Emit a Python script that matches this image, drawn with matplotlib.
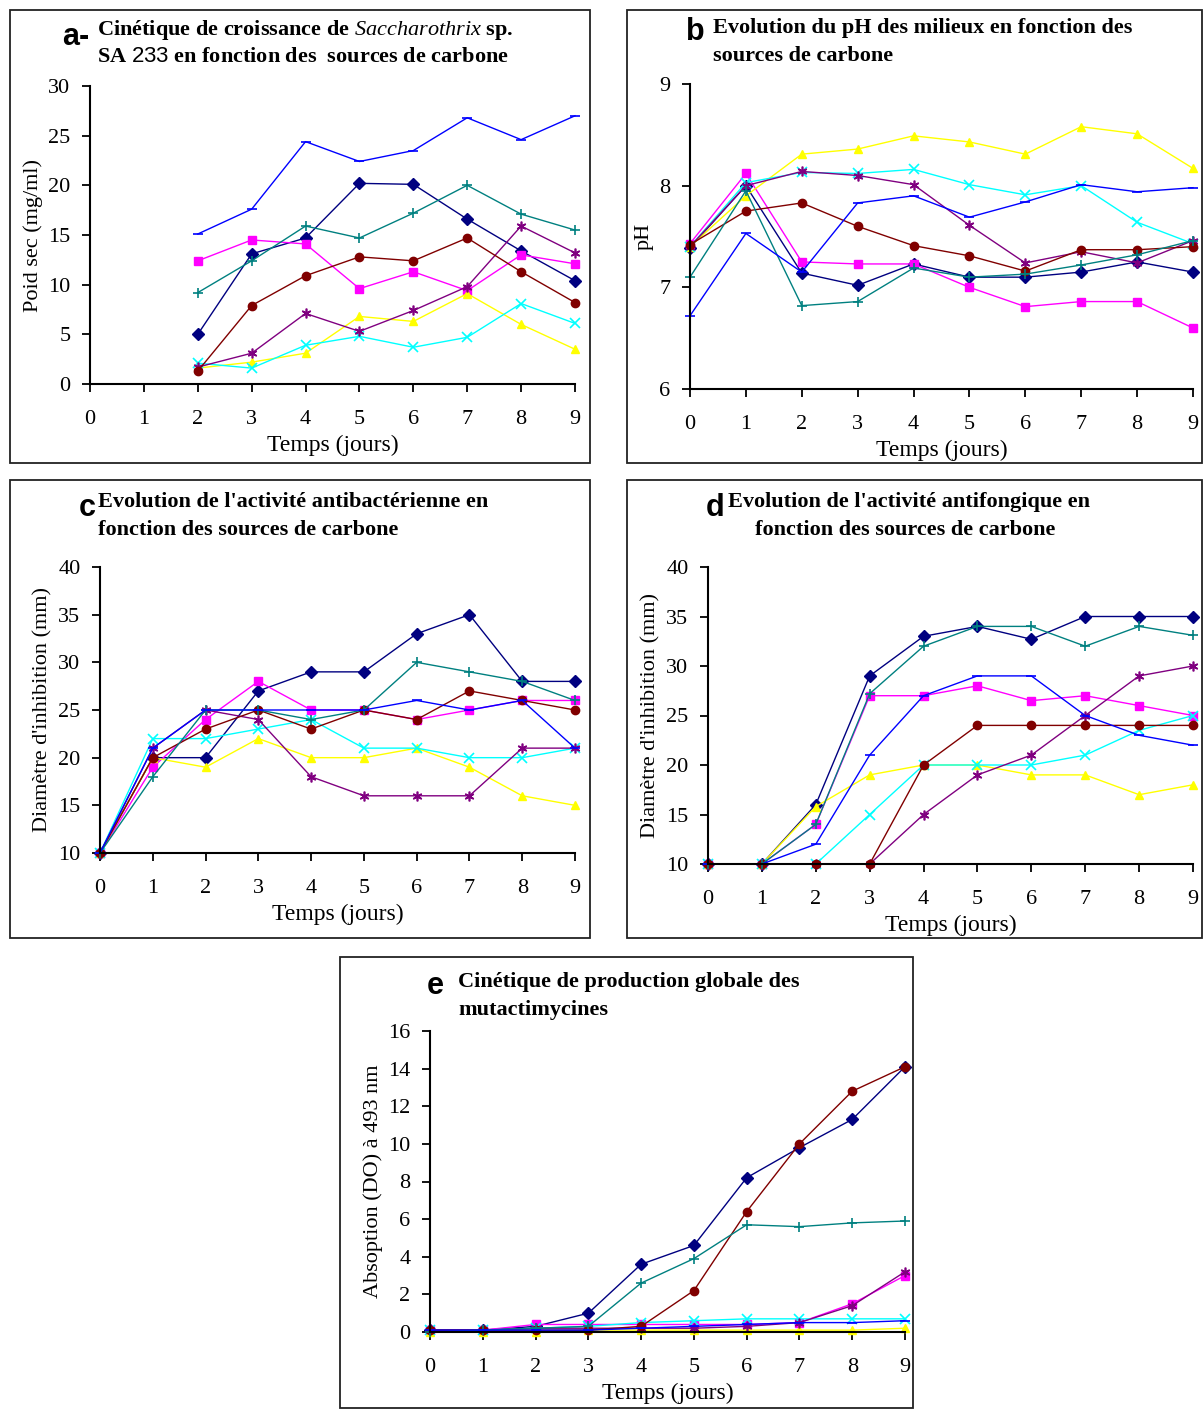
import matplotlib.pyplot as plt
import numpy as np
from matplotlib.patches import Rectangle

plt.rcParams['font.family'] = ['Liberation Serif', 'DejaVu Serif']
plt.rcParams['mathtext.fontset'] = 'custom'
plt.rcParams['mathtext.it'] = 'Liberation Serif:italic'
plt.rcParams['mathtext.rm'] = 'Liberation Serif:bold'
plt.rcParams['mathtext.sf'] = 'Liberation Sans'

W, H = 1203, 1409

# series order: navy, magenta, yellow, cyan, purple, maroon, teal, blue
colors = ['#000080', '#FF00FF', '#FFFF00', '#00FFFF', '#800080', '#800000', '#008080', '#0000FF']
markers = ['D', 's', '^', 'x', (6, 2, 0), 'o', '+', '_']

days = list(range(10))
days_a = list(range(2, 10))

poids_sec = [
    [5.0, 13.1, 14.7, 20.2, 20.1, 16.6, 13.4, 10.4],
    [12.4, 14.5, 14.1, 9.6, 11.3, 9.4, 13.0, 12.1],
    [1.6, 2.2, 3.1, 6.8, 6.3, 9.1, 6.0, 3.5],
    [2.1, 1.6, 3.9, 4.8, 3.7, 4.7, 8.1, 6.1],
    [1.7, 3.1, 7.1, 5.3, 7.4, 9.8, 15.9, 13.2],
    [1.3, 7.9, 10.9, 12.8, 12.4, 14.7, 11.3, 8.2],
    [9.2, 12.4, 15.9, 14.7, 17.2, 20.0, 17.1, 15.5],
    [15.1, 17.6, 24.4, 22.4, 23.5, 26.8, 24.6, 27.0],
]

ph = [
    [7.39, 8.00, 7.14, 7.02, 7.23, 7.10, 7.10, 7.15, 7.25, 7.15],
    [7.43, 8.12, 7.25, 7.23, 7.23, 7.00, 6.81, 6.86, 6.86, 6.60],
    [7.40, 7.90, 8.31, 8.36, 8.49, 8.43, 8.31, 8.58, 8.51, 8.17],
    [7.40, 8.03, 8.13, 8.12, 8.16, 8.01, 7.91, 8.00, 7.64, 7.43],
    [7.40, 8.00, 8.14, 8.10, 8.01, 7.61, 7.24, 7.35, 7.24, 7.46],
    [7.42, 7.75, 7.83, 7.60, 7.41, 7.31, 7.16, 7.37, 7.37, 7.40],
    [7.10, 7.95, 6.82, 6.86, 7.19, 7.10, 7.13, 7.22, 7.32, 7.46],
    [6.72, 7.53, 7.15, 7.83, 7.90, 7.69, 7.84, 8.01, 7.94, 7.98],
]

antibact = [
    [10, 20, 20, 27, 29, 29, 33, 35, 28, 28],
    [10, 19, 24, 28, 25, 25, 24, 25, 26, 26],
    [10, 20, 19, 22, 20, 20, 21, 19, 16, 15],
    [10, 22, 22, 23, 24, 21, 21, 20, 20, 21],
    [10, 21, 25, 24, 18, 16, 16, 16, 21, 21],
    [10, 20, 23, 25, 23, 25, 24, 27, 26, 25],
    [10, 18, 25, 25, 24, 25, 30, 29, 28, 26],
    [10, 21, 25, 25, 25, 25, 26, 25, 26, 21],
]

antifong = [
    [10, 10, 16, 29, 33, 34, 32.7, 35, 35, 35],
    [10, 10, 14, 27, 27, 28, 26.5, 27, 26, 25],
    [10, 10, 15.8, 19, 20, 20, 19, 19, 17, 18],
    [10, 10, 10, 15, 20, 20, 20, 21, 23.5, 25],
    [10, 10, 10, 10, 15, 19, 21, 25, 29, 30],
    [10, 10, 10, 10, 20, 24, 24, 24, 24, 24],
    [10, 10, 14, 27.2, 32, 34, 34, 32, 34, 33.1],
    [10, 10, 12, 21, 27, 29, 29, 25, 23, 22],
]

absorption = [
    [0.1, 0.1, 0.3, 1.0, 3.6, 4.6, 8.2, 9.8, 11.3, 14.1],
    [0.1, 0.1, 0.4, 0.4, 0.4, 0.4, 0.4, 0.5, 1.5, 3.0],
    [0.0, 0.0, 0.0, 0.1, 0.1, 0.1, 0.1, 0.1, 0.1, 0.2],
    [0.1, 0.1, 0.2, 0.3, 0.5, 0.6, 0.7, 0.7, 0.7, 0.7],
    [0.1, 0.1, 0.2, 0.2, 0.2, 0.2, 0.3, 0.5, 1.4, 3.2],
    [0.1, 0.1, 0.1, 0.1, 0.3, 2.2, 6.4, 10.0, 12.8, 14.1],
    [0.0, 0.1, 0.2, 0.3, 2.6, 3.9, 5.7, 5.6, 5.8, 5.9],
    [0.1, 0.1, 0.1, 0.1, 0.2, 0.3, 0.4, 0.5, 0.5, 0.6],
]


def px_rect(x0, y0, x1, y1):
    # pixel box (top-left origin) -> figure fraction [l, b, w, h]
    return [x0 / W, 1 - y1 / H, (x1 - x0) / W, (y1 - y0) / H]


def fig_text(x, y, s, **kw):
    fig.text(x / W, 1 - y / H, s, va='center', **kw)


fig = plt.figure(figsize=(W / 100, H / 100), dpi=100)


def panel(box, frame, x, data, ylim, yticks, ylabel):
    fig.add_artist(Rectangle((frame[0], frame[1]), frame[2], frame[3],
                             transform=fig.transFigure, fill=False,
                             ec='#222222', lw=1.3))
    ax = fig.add_axes(px_rect(*box))
    for ys, c, m in zip(data, colors, markers):
        filled = m not in ('x', '+', '_') and not isinstance(m, tuple)
        ax.plot(x, ys, color=c, lw=1.0, marker=m,
                ms=6 if filled else 7, mew=1.0 if filled else 1.2,
                mec=c, mfc=c, clip_on=False)
    ax.set_xlim(0, 9)
    ax.set_ylim(*ylim)
    ax.set_xticks(range(10))
    ax.set_yticks(yticks)
    for s in ('top', 'right'):
        ax.spines[s].set_visible(False)
    for s in ('left', 'bottom'):
        ax.spines[s].set_linewidth(1.5)
        ax.spines[s].set_color('black')
    ax.tick_params(direction='out', length=6, width=1.3, labelsize=16, pad=8)
    ax.tick_params(axis='x', pad=13)
    ax.set_xlabel('Temps (jours)', fontsize=17, labelpad=4)
    ax.set_ylabel(ylabel, fontsize=16, labelpad=4)
    return ax


panel((90, 86, 575, 384), px_rect(10, 10, 590, 463), days_a, poids_sec,
      (0, 30), range(0, 31, 5), 'Poid sec (mg/ml)')
panel((690, 84, 1193, 389), px_rect(627, 10, 1202, 463), days, ph,
      (6, 9), range(6, 10), 'pH')
panel((100, 567, 575, 853), px_rect(10, 480, 590, 938), days, antibact,
      (10, 40), range(10, 41, 5), "Diamètre d'inhibition (mm)")
panel((708, 567, 1193, 864), px_rect(627, 480, 1202, 938), days, antifong,
      (10, 40), range(10, 41, 5), "Diamètre d'inhibition (mm)")
panel((430, 1031, 905, 1332), px_rect(340, 957, 913, 1408), days, absorption,
      (0, 16), range(0, 17, 2), 'Absoption (DO) à 493 nm')

lk = dict(fontsize=22, fontweight='bold', family='Liberation Sans')
tk = dict(fontsize=16, fontweight='bold')

fig_text(62, 37, 'a-', **lk)
fig_text(97, 30, r'Cinétique de croissance de $\mathit{Saccharothrix}$ sp.', **tk)
fig_text(97, 57, r'SA $\mathsf{233}$ en fonction des  sources de carbone', **tk)

fig_text(686, 32, 'b', **lk)
fig_text(713, 28, 'Evolution du pH des milieux en fonction des', **tk)
fig_text(713, 56, 'sources de carbone', **tk)

fig_text(79, 508, 'c', **lk)
fig_text(98, 502, "Evolution de l'activité antibactérienne en", **tk)
fig_text(98, 530, 'fonction des sources de carbone', **tk)

fig_text(706, 508, 'd', **lk)
fig_text(728, 502, "Evolution de l'activité antifongique en", **tk)
fig_text(755, 530, 'fonction des sources de carbone', **tk)

fig_text(427, 986, 'e', **lk)
fig_text(458, 982, 'Cinétique de production globale des', **tk)
fig_text(458, 1010, 'mutactimycines', **tk)

fig.savefig('out.png', dpi=100)
